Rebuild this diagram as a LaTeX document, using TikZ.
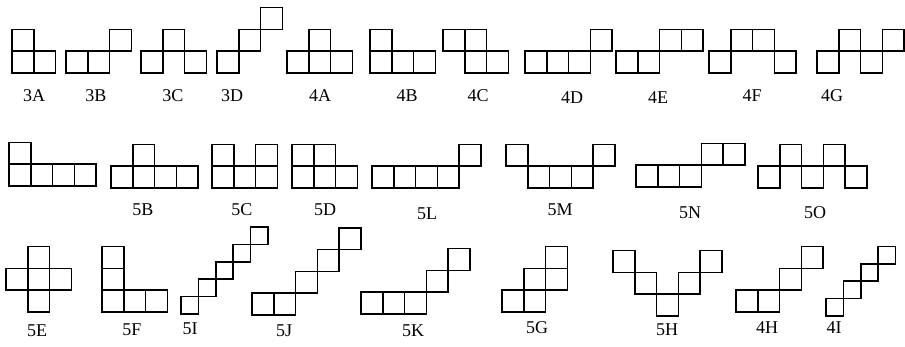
\documentclass[tikz,border=0pt]{standalone}
\usepackage{fontspec}
\setmainfont{Liberation Serif}
\usetikzlibrary{positioning}

% piece: left x, bottom y, cell size, list of cells (column/row)
\newcommand{\drawpiece}[4]{%
  \foreach \i/\j in {#4}
    \draw[cell] ({#1+\i*#3},{#2-\j*#3}) rectangle ++(#3,-#3);
}
\newcommand{\sq}{21.8}
\newcommand{\sqs}{17.4}

\begin{document}
\begin{tikzpicture}[x=1pt, y=-1pt,
    cell/.style={draw=black, line width=1.5pt},
    lbl/.style={font=\fontsize{18}{20}\selectfont, inner sep=0pt},
]
    \useasboundingbox (0,0) rectangle (905,347);

    % Row 1: trominoes and tetrominoes
    \drawpiece{12}{73}{\sq}{0/0,1/0,0/1}
    \drawpiece{66}{73}{\sq}{0/0,1/0,2/1}
    \drawpiece{141}{73}{\sq}{0/0,1/1,2/0}
    \drawpiece{217}{73}{\sq}{0/0,1/1,2/2}
    \drawpiece{287}{73}{\sq}{0/0,1/0,2/0,1/1}
    \drawpiece{370}{73}{\sq}{0/0,1/0,2/0,0/1}
    \drawpiece{443}{73}{\sq}{0/1,1/1,1/0,2/0}
    \drawpiece{525}{73}{\sq}{0/0,1/0,2/0,3/1}
    \drawpiece{616}{73}{\sq}{0/0,1/0,2/1,3/1}
    \drawpiece{709}{73}{\sq}{0/0,1/1,2/1,3/0}
    \drawpiece{817}{73}{\sq}{0/0,1/1,2/0,3/1}

    \node[lbl] (l3A) at (34,96)  {3A};
    \node[lbl] (l3B) at (96,96)  {3B};
    \node[lbl] (l3C) at (173,96) {3C};
    \node[lbl] (l3D) at (232,96) {3D};
    \node[lbl] (l4A) at (320,96) {4A};
    \node[lbl] (l4B) at (407,96) {4B};
    \node[lbl] (l4C) at (478,96) {4C};
    \node[lbl] (l4D) at (572,98) {4D};
    \node[lbl] (l4E) at (658,98) {4E};
    \node[lbl] (l4F) at (752,96) {4F};
    \node[lbl] (l4G) at (832,96) {4G};

    % Row 2: pentominoes
    \drawpiece{9}{186}{\sq}{0/0,1/0,2/0,3/0,0/1}
    \drawpiece{111}{188}{\sq}{0/0,1/0,2/0,3/0,1/1}
    \drawpiece{212}{188}{\sq}{0/0,1/0,2/0,0/1,2/1}
    \drawpiece{292}{188}{\sq}{0/0,1/0,2/0,0/1,1/1}
    \drawpiece{372}{188}{\sq}{0/0,1/0,2/0,3/0,4/1}
    \drawpiece{506}{188}{\sq}{0/1,1/0,2/0,3/0,4/1}
    \drawpiece{636}{187}{\sq}{0/0,1/0,2/0,3/1,4/1}
    \drawpiece{758}{188}{\sq}{0/0,1/1,2/0,3/1,4/0}

    \node[lbl] (l5B) at (143,210) {5B};
    \node[lbl] (l5C) at (242,210) {5C};
    \node[lbl] (l5D) at (325,210) {5D};
    \node[lbl] (l5L) at (427,214) {5L};
    \node[lbl] (l5M) at (560,210) {5M};
    \node[lbl] (l5N) at (690,213) {5N};
    \node[lbl] (l5O) at (815,213) {5O};

    % Row 3
    \drawpiece{6}{312}{\sq}{1/0,0/1,1/1,2/1,1/2}
    \drawpiece{102}{312}{\sq}{0/0,1/0,2/0,0/1,0/2}
    \drawpiece{181}{314}{\sqs}{0/0,1/1,2/2,3/3,4/4}
    \drawpiece{252}{315}{\sq}{0/0,1/0,2/1,3/2,4/3}
    \drawpiece{361}{314}{\sq}{0/0,1/0,2/0,3/1,4/2}
    \drawpiece{502}{312}{\sq}{0/0,1/0,1/1,2/1,2/2}
    \drawpiece{613}{316}{\sq}{0/2,1/1,2/0,3/1,4/2}
    \drawpiece{736}{312}{\sq}{0/0,1/0,2/1,3/2}
    \drawpiece{826}{316}{\sqs}{0/0,1/1,2/2,3/3}

    \node[lbl] (l5E) at (37,331)  {5E};
    \node[lbl] (l5F) at (132,330) {5F};
    \node[lbl] (l5I) at (190,329) {5I};
    \node[lbl] (l5J) at (284,331) {5J};
    \node[lbl] (l5K) at (413,331) {5K};
    \node[lbl] (l5G) at (537,328) {5G};
    \node[lbl] (l5H) at (667,330) {5H};
    \node[lbl] (l4H) at (767,328) {4H};
    \node[lbl] (l4I) at (834,328) {4I};
\end{tikzpicture}
\end{document}
